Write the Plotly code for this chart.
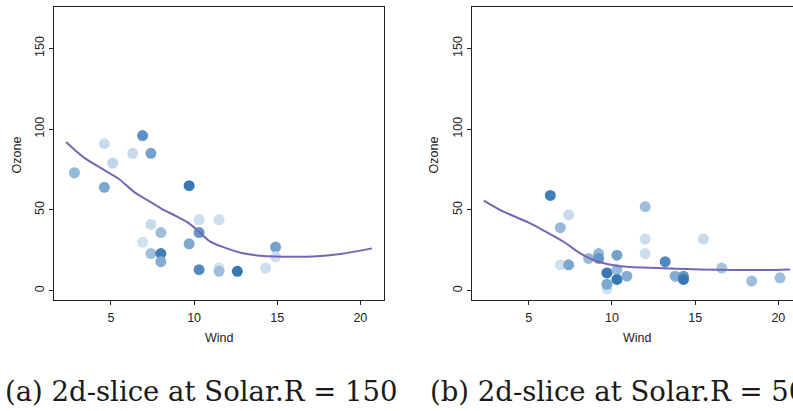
import plotly.graph_objects as go

# ---- panel (a): Solar.R = 150 ----
wind_a = [2.8, 4.6, 4.6, 5.1, 6.3, 6.9, 7.4, 7.4, 6.9, 7.4, 8.0, 8.0, 8.0, 9.7, 9.7,
          10.3, 10.3, 10.3, 11.5, 11.5, 11.5, 12.6, 14.3, 14.9, 14.9]
ozone_a = [73, 91, 64, 79, 85, 96, 85, 41, 30, 23, 36, 23, 18, 65, 29,
           44, 36, 13, 44, 14, 12, 12, 14, 27, 21]
shade_a = [0.45, 0.15, 0.6, 0.2, 0.15, 0.8, 0.65, 0.15, 0.1, 0.4, 0.4, 0.95, 0.55, 1.0, 0.6,
           0.12, 0.75, 0.85, 0.12, 0.1, 0.4, 1.0, 0.12, 0.65, 0.12]
fit_wind_a = [2.3, 3.3, 4.6, 5.5, 6.4, 7.15, 8.0, 8.95, 9.65, 10.35, 10.95, 11.8, 12.8,
              14.0, 15.0, 16.0, 17.4, 18.8, 20.7]
fit_ozone_a = [92, 83, 74.6, 69.0, 61.0, 56.3, 51, 46, 42, 36, 30.5, 26.8, 23.5,
               21.6, 21.1, 21.0, 21.4, 22.7, 26.2]

# ---- panel (b): Solar.R = 50 ----
wind_b = [6.3, 6.9, 7.4, 6.9, 7.4, 8.6, 9.2, 9.2, 9.7, 9.7, 9.7, 10.3, 10.3, 10.3, 10.9,
          12.0, 12.0, 12.0, 13.2, 13.8, 14.3, 14.3, 15.5, 16.6, 18.4, 20.1]
ozone_b = [59, 39, 47, 16, 16, 20, 23, 20, 1, 4, 11, 22, 13, 7, 9,
           52, 32, 23, 18, 9, 9, 7, 32, 14, 6, 8]
shade_b = [0.95, 0.45, 0.15, 0.1, 0.6, 0.45, 0.45, 0.75, 0.1, 0.6, 1.0, 0.65, 0.45, 1.0, 0.55,
           0.4, 0.12, 0.12, 0.85, 0.55, 0.75, 1.0, 0.15, 0.35, 0.4, 0.4]
fit_wind_b = [2.3, 3.3, 5.0, 6.1, 7.1, 8.1, 8.9, 9.7, 10.9, 12.3, 13.9, 15.3, 17.3, 18.9, 20.7]
fit_ozone_b = [55.7, 49.9, 42.1, 36.1, 30.3, 23.1, 19.0, 16.5, 14.8, 14.2, 13.6, 13.2,
               12.8, 12.8, 13.2]

captions = ["(a) 2d-slice at Solar.R = 150", "(b) 2d-slice at Solar.R = 50"]

W, H = 793, 411
blues = [[0.0, "#e1ecf6"], [0.5, "#8db3d6"], [1.0, "#3879b5"]]
curve_color = "#7566b3"
tick_font = dict(family="Liberation Sans, Arial, sans-serif", size=12.5, color="#222222")

fig = go.Figure()

for i, (wx, oz, sh, fw, fo) in enumerate([
        (wind_a, ozone_a, shade_a, fit_wind_a, fit_ozone_a),
        (wind_b, ozone_b, shade_b, fit_wind_b, fit_ozone_b)]):
    xa = "x" if i == 0 else "x2"
    ya = "y" if i == 0 else "y2"
    fig.add_trace(go.Scatter(
        x=wx, y=oz, mode="markers", xaxis=xa, yaxis=ya, showlegend=False,
        marker=dict(size=11, color=sh, colorscale=blues, cmin=0, cmax=1,
                    line=dict(width=0)),
        hoverinfo="skip"))
    fig.add_trace(go.Scatter(
        x=fw, y=fo, mode="lines", xaxis=xa, yaxis=ya, showlegend=False,
        line=dict(color=curve_color, width=2, shape="spline", smoothing=1.0),
        hoverinfo="skip"))

y_dom = [1 - 300 / H, 1 - 7.3 / H]
axis_common = dict(showgrid=False, zeroline=False, ticks="outside", ticklen=4,
                   tickwidth=1, tickcolor="#222222", linecolor="#222222",
                   linewidth=1, showline=True, tickfont=tick_font)

fig.update_layout(
    width=W, height=H, margin=dict(l=0, r=0, t=0, b=0),
    paper_bgcolor="white", plot_bgcolor="white",
    xaxis=dict(domain=[54.3 / W, 384.3 / W], range=[1.59, 21.44],
               tickvals=[5, 10, 15, 20], mirror=True, anchor="y",
               ticklabelstandoff=2, **axis_common),
    yaxis=dict(domain=y_dom, range=[-5.75, 175.4], tickvals=[0, 50, 100, 150],
               tickangle=-90, mirror=True, anchor="x", **axis_common),
    xaxis2=dict(domain=[471.7 / W, 1.0], range=[1.575, 20.88],
                tickvals=[5, 10, 15, 20], mirror=True, anchor="y2",
                ticklabelstandoff=2, **axis_common),
    yaxis2=dict(domain=y_dom, range=[-5.75, 175.4], tickvals=[0, 50, 100, 150],
                tickangle=-90, mirror=False, anchor="x2", **axis_common),
)

title_font = dict(family="Liberation Sans, Arial, sans-serif", size=12.5, color="#222222")
annotations = []
for cx, ox in [(219.3, 16.5), (637.0, 433.5)]:
    annotations.append(dict(text="Wind", x=cx / W, y=1 - 338 / H, xref="paper",
                            yref="paper", showarrow=False, font=title_font,
                            xanchor="center", yanchor="middle"))
    annotations.append(dict(text="Ozone", x=ox / W, y=1 - 155 / H, xref="paper",
                            yref="paper", showarrow=False, font=title_font,
                            textangle=-90, xanchor="center", yanchor="middle"))

cap_font = dict(family="DejaVu Serif, serif", size=27.5, color="#1a1a1a")
for text, left in zip(captions, [3, 428]):
    annotations.append(dict(text=text, x=left / W, y=1 - 391 / H, xref="paper",
                            yref="paper", showarrow=False, font=cap_font,
                            xanchor="left", yanchor="middle"))
fig.update_layout(annotations=annotations)

fig.write_html("out.html")
